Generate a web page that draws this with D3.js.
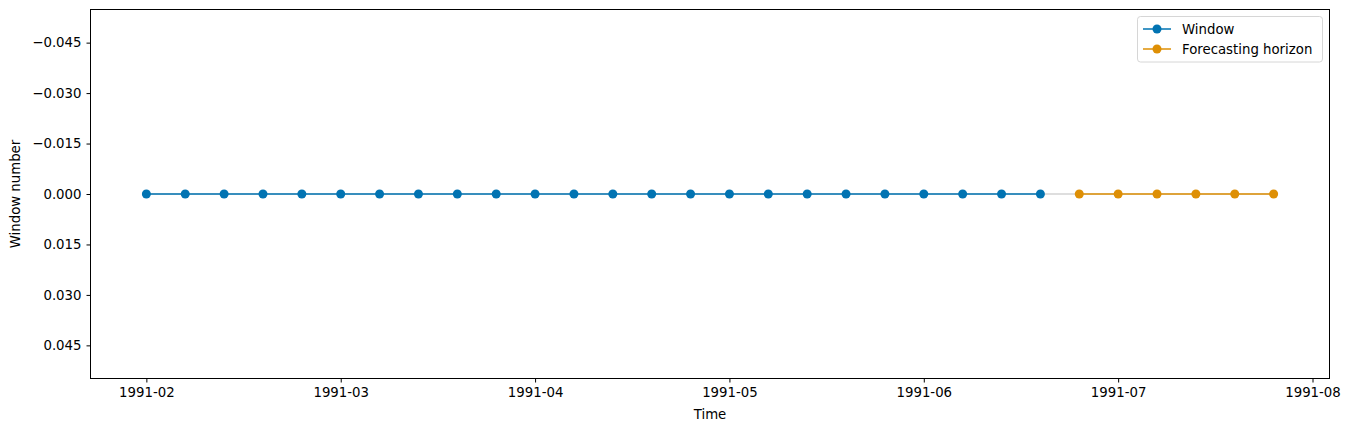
<!DOCTYPE html>
<html><head><meta charset="utf-8">
<script src="https://cdn.jsdelivr.net/npm/d3@7"></script>
<style>body{margin:0;background:#fff}svg{display:block}text{font-family:"DejaVu Sans",sans-serif}</style>
</head><body>
<svg id="c" width="1351" height="432"></svg>
<script>
// time steps (index positions of the series)
const steps = d3.range(0, 30);
const windowIdx = d3.range(0, 24);
const horizonIdx = d3.range(24, 30);
const windowValues = windowIdx.map(() => 0);
const horizonValues = horizonIdx.map(() => 0);
const xTickPos = [0, 5, 10, 15, 20, 25, 30];
const xTickLabels = ["1991-02","1991-03","1991-04","1991-05","1991-06","1991-07","1991-08"];
const yTicks = [-0.045, -0.030, -0.015, 0.000, 0.015, 0.030, 0.045];

const svg = d3.select("#c");
const L = 90, R = 1330, T = 9, B = 379;
const x = d3.scaleLinear().domain([-1.45, 30.45]).range([L, R]);
const y = d3.scaleLinear().domain([-0.055, 0.055]).range([T, B]);

// full series in light gray
svg.append("path").datum(steps).attr("fill","none").attr("stroke","#d3d3d3").attr("stroke-width",1.5)
  .attr("d", d3.line().x(d => x(d)).y(() => y(0)));

function series(idx, vals, color){
  const data = idx.map((d,i)=>({x:d,y:vals[i]}));
  svg.append("path").datum(data).attr("fill","none").attr("stroke",color).attr("stroke-width",1.5)
    .attr("d", d3.line().x(d=>x(d.x)).y(d=>y(d.y)));
  svg.append("g").selectAll("circle").data(data).join("circle")
    .attr("cx", d=>x(d.x)).attr("cy", d=>y(d.y)).attr("r",4.5).attr("fill",color);
}
series(windowIdx, windowValues, "#0173b2");
series(horizonIdx, horizonValues, "#de8f05");

// axes
const xa = svg.append("g").attr("transform",`translate(0,${B})`)
  .call(d3.axisBottom(x).tickValues(xTickPos).tickFormat((d,i)=>xTickLabels[i]).tickSize(3.5).tickPadding(5));
const ya = svg.append("g").attr("transform",`translate(${L},0)`)
  .call(d3.axisLeft(y).tickValues(yTicks).tickFormat(d=>d3.format(".3f")(d).replace("-","\u2212")).tickSize(3.5).tickPadding(5));
[xa,ya].forEach(a=>{a.select(".domain").remove();a.selectAll("text").attr("font-size",13.3).attr("fill","#000").style("font-family","DejaVu Sans");a.selectAll("line").attr("stroke","#000").attr("stroke-width",1);});
xa.selectAll("text").attr("dy","0.71em");

svg.append("rect").attr("x",L+0.5).attr("y",T+0.5).attr("width",R-L-1).attr("height",B-T-1)
  .attr("fill","none").attr("stroke","#000").attr("stroke-width",1);

svg.append("text").attr("x",(L+R)/2).attr("y",419).attr("text-anchor","middle").attr("font-size",13.3).text("Time");
svg.append("text").attr("transform",`translate(20,${(T+B)/2}) rotate(-90)`).attr("text-anchor","middle").attr("font-size",13.3).text("Window number");

// legend
const lg = svg.append("g");
lg.append("rect").attr("x",1137.5).attr("y",16.5).attr("width",185).attr("height",45.5).attr("rx",3)
  .attr("fill","#fff").attr("fill-opacity",0.8).attr("stroke","#ccc").attr("stroke-width",0.8);
[["Window","#0173b2",29],["Forecasting horizon","#de8f05",49]].forEach(([t,c,yy])=>{
  lg.append("line").attr("x1",1143).attr("x2",1171).attr("y1",yy).attr("y2",yy).attr("stroke",c).attr("stroke-width",1.5);
  lg.append("circle").attr("cx",1157).attr("cy",yy).attr("r",4.5).attr("fill",c);
  lg.append("text").attr("x",1182).attr("y",yy).attr("dy","0.35em").attr("font-size",13.3).text(t);
});
</script>
</body></html>
